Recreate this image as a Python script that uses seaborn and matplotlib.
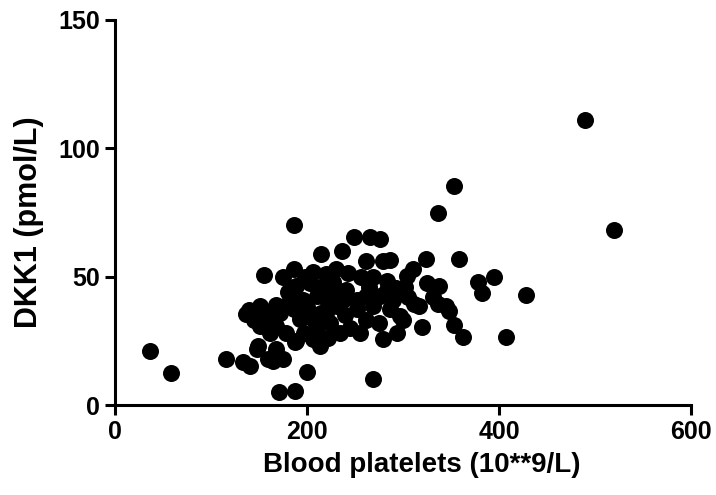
import pandas as pd
import matplotlib
matplotlib.use("Agg")
import matplotlib.pyplot as plt
import seaborn as sns

# values
platelets = [
    36, 58, 490, 520, 353, 336, 428, 407, 395, 378,
    382, 358, 363, 353, 348, 336, 338, 320, 324, 310,
    325, 317, 302, 305, 300, 186, 249, 266, 276, 215,
    236, 261, 279, 287, 155, 175, 186, 206, 220, 243,
    269, 283, 293, 304, 331, 345, 311, 189, 203, 227,
    241, 182, 196, 210, 220.5, 231, 252, 262, 276, 283,
    252, 269, 286.5, 297, 137, 151, 158, 172, 186, 151,
    168, 161.5, 193, 206.6, 224, 234, 206.6, 213.5, 189, 255,
    279.5, 293.4, 149, 168, 175, 116, 133.6, 140.6, 159.7, 200,
    269, 171, 187.5, 165, 147.6, 187.5, 200, 215, 228, 240,
    245, 262, 275, 290, 214, 197, 222, 178, 180, 238,
    265, 210, 168, 145, 140, 198, 230, 256, 220,
]
dkk1 = [
    21, 12.5, 111, 68, 85.5, 75, 43, 26.5, 50, 48,
    43.5, 57, 26.5, 31, 36.5, 39.5, 46.5, 30.5, 57, 53,
    47.5, 38.5, 46, 42, 33, 70.3, 65.5, 65.5, 64.5, 59,
    60, 56, 56, 56.5, 50.5, 49.7, 52.9, 52, 51, 51.6,
    49.7, 48.5, 45.7, 50.3, 42, 38.6, 39.3, 46.4, 47.7, 47.8,
    45, 41, 41, 42.5, 41, 38.6, 41, 42.5, 42.5, 45,
    37.3, 38.6, 37.3, 34.7, 35.4, 38.6, 34.7, 36, 37.3, 30.8,
    30.8, 28.2, 33.4, 33.4, 32, 28.2, 25.6, 23, 25, 28.2,
    25.6, 28.2, 23, 21.8, 17.9, 18, 16.6, 15.3, 17.9, 12.7,
    10, 4.9, 5.6, 17.2, 21.8, 24.4, 38, 36, 44, 35,
    30, 33, 32, 41, 46, 28, 26, 28, 44, 41,
    46, 30, 39, 33, 37, 50, 53, 50, 36,
]

x_ticks = [0, 200, 400, 600]
y_ticks = [0, 50, 100, 150]


def main():
    df = pd.DataFrame({"platelets": platelets, "dkk1": dkk1})

    sns.set_style("ticks")
    plt.rcParams["font.family"] = ["Liberation Sans", "DejaVu Sans"]
    plt.rcParams["font.weight"] = "bold"
    plt.rcParams["text.color"] = "black"
    plt.rcParams["axes.labelcolor"] = "black"
    plt.rcParams["xtick.color"] = "black"
    plt.rcParams["ytick.color"] = "black"

    fig = plt.figure(figsize=(7.16, 4.95), dpi=100)
    ax = fig.add_axes([0.1606, 0.1818, 0.8044, 0.7778])

    sns.scatterplot(
        data=df,
        x="platelets",
        y="dkk1",
        color="black",
        s=150,
        linewidth=0,
        clip_on=False,
        ax=ax,
    )

    ax.set_xlim(0, 600)
    ax.set_ylim(0, 150)
    ax.set_xticks(x_ticks)
    ax.set_yticks(y_ticks)
    ax.set_xticklabels([str(t) for t in x_ticks], fontsize=18, fontweight="bold")
    ax.set_yticklabels([str(t) for t in y_ticks], fontsize=18, fontweight="bold")

    ax.set_xlabel("Blood platelets (10**9/L)", fontsize=20, fontweight="bold")
    ax.set_ylabel("DKK1 (pmol/L)", fontsize=22, fontweight="bold")
    ax.xaxis.set_label_coords(0.533, -0.122)
    ax.yaxis.set_label_coords(-0.123, 0.475)

    sns.despine(ax=ax)
    for side in ["left", "bottom"]:
        ax.spines[side].set_linewidth(2.2)
        ax.spines[side].set_color("black")
    ax.tick_params(axis="both", width=2.2, length=7, color="black", pad=4)

    fig.savefig("out.png", dpi=100)


if __name__ == "__main__":
    main()
